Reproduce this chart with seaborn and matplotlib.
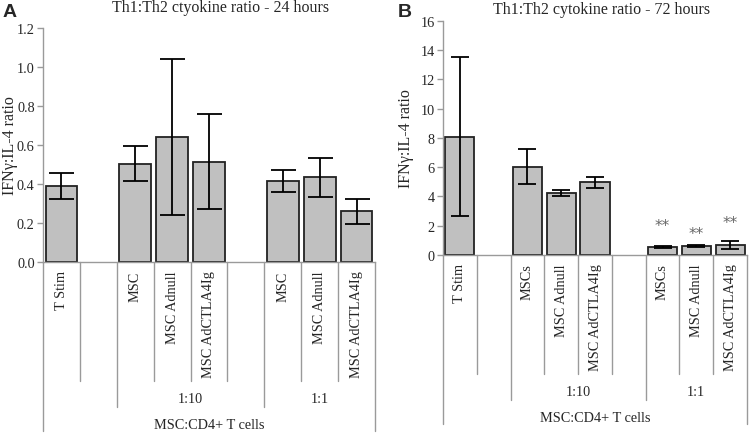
import numpy as np
import pandas as pd
import seaborn as sns
import matplotlib
matplotlib.use("Agg")
import matplotlib.pyplot as plt

# Slots on the x axis (blank entries are the empty gaps in the chart)
slot_keys = ["tstim", "gap1", "msc10", "adnull10", "adctla10", "gap2", "msc1", "adnull1", "adctla1"]
labels_a = ["T Stim", "", "MSC", "MSC Adnull", "MSC AdCTLA4Ig", "", "MSC", "MSC Adnull", "MSC AdCTLA4Ig"]
labels_b = ["T Stim", "", "MSCs", "MSC Adnull", "MSC AdCTLA4Ig", "", "MSCs", "MSC Adnull", "MSC AdCTLA4Ig"]

# Panel A - 24 hours
ratio_24h = [0.39, np.nan, 0.505, 0.64, 0.515, np.nan, 0.415, 0.435, 0.26]
err_24h = [0.067, np.nan, 0.09, 0.40, 0.242, np.nan, 0.058, 0.10, 0.063]

# Panel B - 72 hours
ratio_72h = [8.1, np.nan, 6.02, 4.23, 4.97, np.nan, 0.55, 0.6, 0.68]
err_72h = [5.45, np.nan, 1.2, 0.23, 0.38, np.nan, 0.05, 0.08, 0.25]
stars_72h = [np.nan, np.nan, np.nan, np.nan, np.nan, np.nan, 2.05, 1.45, 2.2]

# Grouping rows under the axis
groups = [("1:10", 2, 5), ("1:1", 6, 8)]
outer_label = "MSC:CD4+ T cells"

sns.set_style("white")
plt.rcParams['font.family'] = ['Liberation Serif', 'DejaVu Serif']

GRAY = "#9a9a9a"
BAR = "#c0c0c0"


def draw_panel(ax, values, errors, labels, title, title_xy, ylim, yticks, yfmt, ylabel_x,
               capsize=6, stars=None):
    df = pd.DataFrame({"slot": slot_keys, "ratio": values})
    sns.barplot(data=df, x="slot", y="ratio", order=slot_keys, color=BAR,
                saturation=1, width=0.86, edgecolor="#222222", linewidth=1.3,
                errorbar=None, ax=ax)
    pos = np.arange(len(slot_keys))
    ax.errorbar(pos, values, yerr=errors, fmt="none", ecolor="black",
                elinewidth=1.3, capsize=capsize, capthick=1.3, zorder=5)
    if stars is not None:
        for x, s in zip(pos, stars):
            if not np.isnan(s):
                ax.text(x, s, "**", ha="center", va="center", fontsize=11,
                        color="#666666", family="DejaVu Sans")

    n = len(slot_keys)
    ax.set_xlim(-0.5, n - 0.5)
    ax.set_ylim(*ylim)
    ax.set_yticks(yticks)
    ax.set_yticklabels([yfmt.format(t) for t in yticks])
    ax.set_xticks(pos)
    ax.set_xticklabels(labels, rotation=90, va="top", fontsize=10.3)
    ax.tick_params(axis="x", length=0, pad=6)
    ax.tick_params(axis="y", length=4, width=1, color=GRAY, pad=2, labelsize=10.3, left=True)
    ax.set_xlabel("")
    ax.set_ylabel("IFNγ:IL-4 ratio", fontsize=11.5)
    ax.yaxis.set_label_coords(ylabel_x, 0.5)
    for side in ["top", "right"]:
        ax.spines[side].set_visible(False)
    for side in ["left", "bottom"]:
        ax.spines[side].set_color(GRAY)
        ax.spines[side].set_linewidth(1)

    # label table under the axis
    tr = ax.get_xaxis_transform()
    group_edges = set()
    for _, a, b in groups:
        group_edges.add(a - 0.5)
        group_edges.add(b + 0.5)
    slot_depth, group_depth, outer_depth = -0.51, -0.62, -0.722
    for i in range(n + 1):
        x = i - 0.5
        if i == 0 or i == n:
            y0 = outer_depth
        elif x in group_edges:
            y0 = group_depth
        else:
            y0 = slot_depth
        ax.plot([x, x], [0, y0], transform=tr, color=GRAY, lw=1, clip_on=False)
    for name, a, b in groups:
        ax.text((a + b) / 2, -0.585, name, transform=tr, ha="center", va="center", fontsize=10.3)
    ax.text((n - 1) / 2, -0.695, outer_label, transform=tr, ha="center", va="center", fontsize=10.3)

    ax.text(title_xy[0], title_xy[1], title, transform=ax.transAxes, ha="center", va="center", fontsize=11.5)


fig = plt.figure(figsize=(7.5, 4.35), dpi=100)
ax_a = fig.add_axes([0.0573, 0.3954, 0.4427, 0.538])
ax_b = fig.add_axes([0.5907, 0.4115, 0.4053, 0.538])

draw_panel(ax_a, ratio_24h, err_24h, labels_a, "Th1:Th2 ctyokine ratio - 24 hours", (0.536, 1.09),
           (0, 1.2), np.arange(0, 1.21, 0.2), "{:.1f}", -0.075, capsize=9)
draw_panel(ax_b, ratio_72h, err_72h, labels_b, "Th1:Th2 cytokine ratio - 72 hours", (0.523, 1.051),
           (0, 16), np.arange(0, 17, 2), "{:.0f}", -0.097, capsize=6.5, stars=stars_72h)

fig.text(0.003, 0.99, "A", fontsize=14, fontweight="bold", family="Liberation Sans", ha="left", va="top")
fig.text(0.53, 0.99, "B", fontsize=14, fontweight="bold", family="Liberation Sans", ha="left", va="top")

fig.savefig("out.png", dpi=100)
